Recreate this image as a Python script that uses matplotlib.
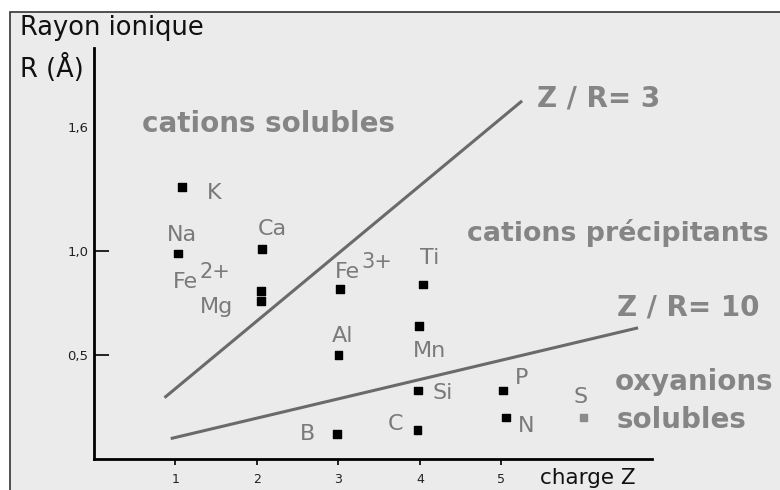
import matplotlib
matplotlib.use("Agg")
import matplotlib.pyplot as plt
from matplotlib.patches import Rectangle

# Ions: charge Z, ionic radius R (Angstrom)
ions = ["K", "Na", "Ca", "Fe2+", "Mg", "Fe3+", "Ti", "Al", "Mn", "Si", "C", "B", "P", "N", "S"]
charge = [1.08, 1.03, 2.06, 2.05, 2.05, 3.02, 4.04, 3.0, 3.99, 3.98, 3.97, 2.98, 5.02, 5.06, 6.01]
rayon = [1.31, 0.99, 1.01, 0.81, 0.76, 0.82, 0.84, 0.50, 0.64, 0.33, 0.14, 0.12, 0.33, 0.20, 0.20]

# label positions (data units, left edge / centre)
lab_x = [1.39, 0.90, 2.01, 0.97, 1.30, 2.96, 4.00, 2.92, 3.91, 4.15, 3.61, 2.53, 5.17, 5.20, 5.88]
lab_y = [1.28, 1.08, 1.11, 0.85, 0.73, 0.90, 0.97, 0.59, 0.52, 0.32, 0.17, 0.12, 0.39, 0.16, 0.30]
lab_txt = ["K", "Na", "Ca", "Fe", "Mg", "Fe", "Ti", "Al", "Mn", "Si", "C", "B", "P", "N", "S"]
# charges written as exponents
exp_txt = ["2+", "3+"]
exp_x = [1.30, 3.28]
exp_y = [0.90, 0.95]

# limit lines Z/R = 3 and Z/R = 10 (end points)
ligne3_z = [0.88, 5.24]
ligne3_r = [0.30, 1.72]
ligne10_z = [0.96, 6.66]
ligne10_r = [0.10, 0.63]

fond = "#ebebeb"
gris = "#7a7a7a"

fig = plt.figure(figsize=(7.8, 4.9), dpi=100)
fig.patch.set_facecolor("white")
fig.patches.append(Rectangle((0.013, -0.01), 1.0, 0.9855, transform=fig.transFigure,
                             facecolor=fond, edgecolor="#333333", linewidth=1.2, zorder=-5))

ax = fig.add_axes([0.1205, 0.0633, 0.7155, 0.839])
ax.set_facecolor("none")
ax.set_xlim(0, 6.85)
ax.set_ylim(0, 1.98)

for s in ["top", "right"]:
    ax.spines[s].set_visible(False)
ax.spines["left"].set_linewidth(2)
ax.spines["bottom"].set_linewidth(2)

ax.set_xticks([1, 2, 3, 4, 5])
ax.set_xticklabels(["1", "2", "3", "4", "5"], fontsize=9, color="#222222")
ax.tick_params(axis="x", length=4, width=1.2, pad=6)
ax.set_yticks([0.5, 1.0, 1.6])
ax.set_yticklabels(["0,5", "1,0", "1,6"], fontsize=9.5, color="#222222")
ax.tick_params(axis="y", direction="in", length=11, width=1.2, pad=4)
ax.yaxis.get_major_ticks()[2].tick1line.set_visible(False)

ax.plot(ligne3_z, ligne3_r, color="#6a6a6a", linewidth=2.2)
ax.plot(ligne10_z, ligne10_r, color="#6a6a6a", linewidth=2.2)

couleurs = ["black"] * (len(ions) - 1) + ["#8c8c8c"]
ax.scatter(charge, rayon, marker="s", s=30, c=couleurs, zorder=3)

for i in range(len(ions)):
    ax.text(lab_x[i], lab_y[i], lab_txt[i], fontsize=16, color=gris,
            ha="left", va="center")
for i in range(len(exp_txt)):
    ax.text(exp_x[i], exp_y[i], exp_txt[i], fontsize=15, color=gris,
            ha="left", va="center")

gras = dict(fontsize=20, fontweight="bold", color="#858585", va="center")
ax.text(0.59, 1.615, "cations solubles", **gras)
ax.text(5.44, 1.735, "Z / R= 3", **gras)
ax.text(4.58, 1.09, "cations précipitants", fontsize=19.3, fontweight="bold",
        color="#858585", va="center")
ax.text(6.42, 0.73, "Z / R= 10", **gras)
ax.text(6.39, 0.37, "oxyanions", **gras)
ax.text(6.41, 0.19, "solubles", **gras)

fig.text(0.026, 0.943, "Rayon ionique", fontsize=18.5, color="#111111", va="center")
fig.text(0.026, 0.861, "R (Å)", fontsize=18.5, color="#111111", va="center")
fig.text(0.815, 0.025, "charge Z", fontsize=15.5, color="#111111", ha="right", va="center")

fig.savefig("out.png", dpi=100)
